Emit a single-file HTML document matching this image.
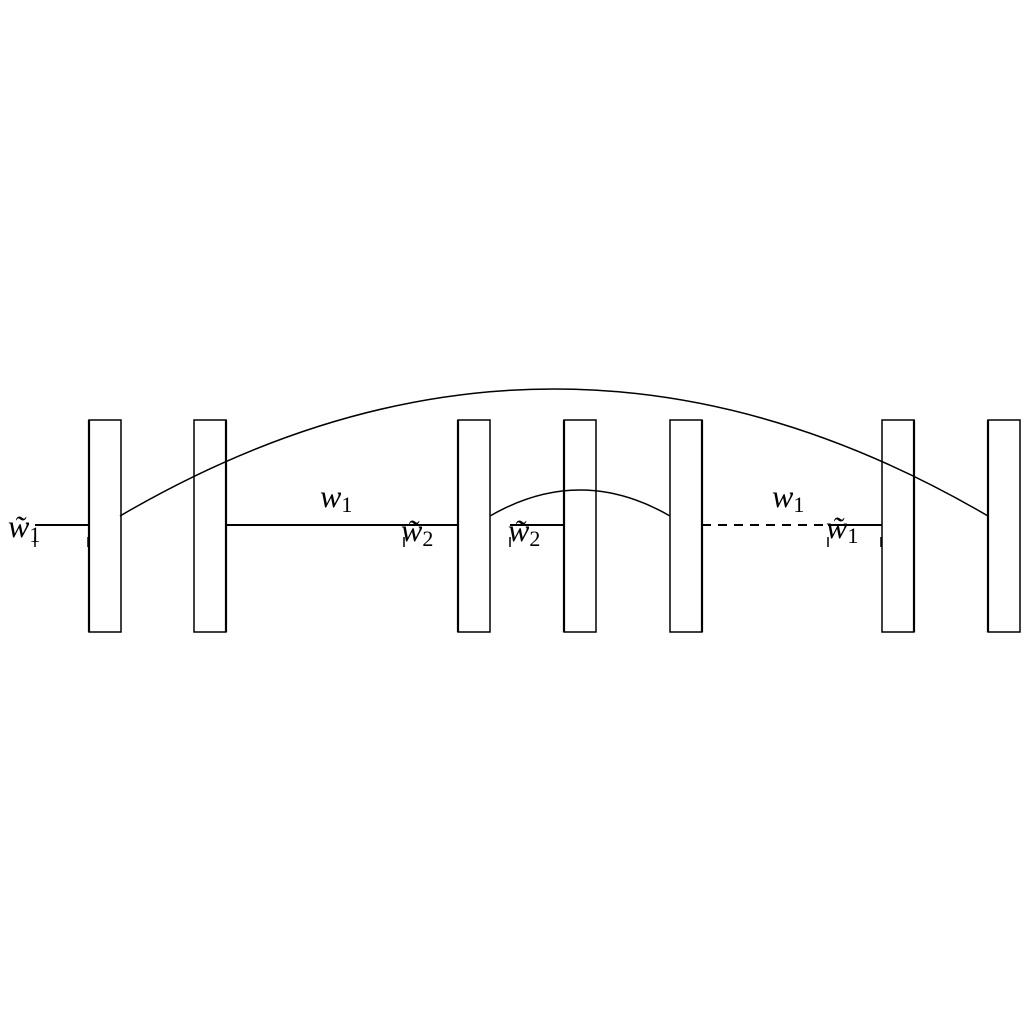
<!DOCTYPE html>
<html><head><meta charset="utf-8"><style>
html,body{margin:0;padding:0;background:#fff;width:1024px;height:1024px;overflow:hidden}
svg{display:block}
text{font-family:"Liberation Serif",serif;font-style:italic;fill:#000}
</style></head><body>
<svg id="c" width="1024" height="1024" viewBox="0 0 1024 1024">
<g id="g"></g>
</svg>
<script>
const boxLefts=[89,194,458,564,670,882,988];
const boxBold=["L","R","L","L","R","R","L"];
const segStarts=[35,226,404,510,702,828];
const segEnds=[89,404,458,564,828,882];
const segDashed=[false,false,false,false,true,false];
const tickXs=[35,88,404,458,510,564,828,881];
const labelTexts=["w̃","w","w̃","w̃","w","w̃"];
const labelSubs=["1","1","2","2","1","1"];
const labelXs=[8,320,401,508,772,826];
const labelYs=[537,507,541,541,507,538];
const arcs=[[120,516,554,262,988,516],[490,516,580,464,670,516]];
const NS="http://www.w3.org/2000/svg";
const g=document.getElementById('g');
function mk(t,a){const e=document.createElementNS(NS,t);for(const k in a)e.setAttribute(k,a[k]);g.appendChild(e);return e;}
const boxTop=420,boxBot=632,boxW=32,lineY=525;
boxLefts.forEach((x,i)=>{
  const r=mk('rect',{x:x,y:boxTop,width:boxW,height:boxBot-boxTop,fill:'#fff',stroke:'#000','stroke-width':1.5});
  
  
  const bx=boxBold[i]=="L"?x:x+boxW;
  const b=mk('line',{x1:bx,y1:boxTop,x2:bx,y2:boxBot,stroke:'#000','stroke-width':2.2});
  
  
});
segStarts.forEach((x,i)=>{
  const a={x1:x,y1:lineY,x2:segEnds[i],y2:lineY,stroke:'#000','stroke-width':2};
  if(segDashed[i])a['stroke-dasharray']='9,7';
  const l=mk('line',a);
  
  
});
tickXs.forEach((x,i)=>{
  const t=mk('line',{x1:x,y1:537,x2:x,y2:547,stroke:'#000','stroke-width':1.5});
  
  
});
arcs.forEach((p,i)=>{
  const a=mk('path',{d:`M${p[0]},${p[1]} Q${p[2]},${p[3]} ${p[4]},${p[5]}`,fill:'none',stroke:'#000','stroke-width':1.5});
  
  
});
labelTexts.forEach((s,i)=>{
  const t=mk('text',{x:labelXs[i],y:labelYs[i],'font-size':32});
  
  
  t.appendChild(document.createTextNode(s));
  const sub=document.createElementNS(NS,'tspan');
  sub.setAttribute('font-size','22');sub.setAttribute('dy','5');sub.setAttribute('font-style','normal');
  sub.textContent=labelSubs[i];
  t.appendChild(sub);
});
</script>
</body></html>
